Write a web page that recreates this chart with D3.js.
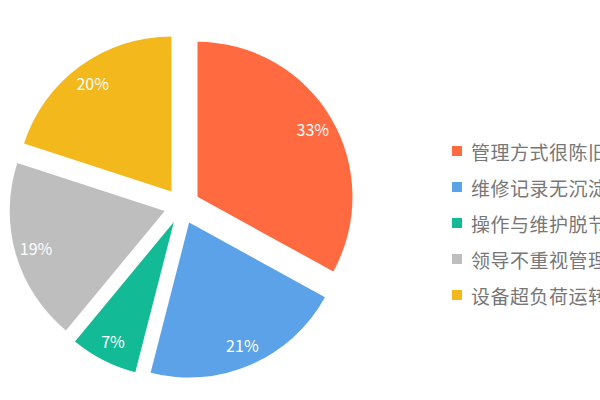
<!DOCTYPE html>
<html>
<head>
<meta charset="utf-8">
<script src="https://cdn.jsdelivr.net/npm/d3@7"></script>
<style>
html,body{margin:0;padding:0;background:#fff;overflow:hidden;}
svg{display:block;}
</style>
</head>
<body>
<svg id="chart" width="600" height="400"></svg>
<script>
const categories = ["管理方式很陈旧", "维修记录无沉淀", "操作与维护脱节", "领导不重视管理", "设备超负荷运转"];
const values = [33, 21, 7, 19, 20];
const colors = ["#FF6A40", "#5BA2E8", "#12BA96", "#BEBEBE", "#F2B81C"];

const svg = d3.select("#chart");
const cx = 182, cy = 206, R = 155, offset = 18, labelR = 134;
const font = "'Noto Sans CJK SC', 'Noto Sans', sans-serif";

const data = categories.map((c, i) => ({name: c, value: values[i], color: colors[i]}));
const pie = d3.pie().value(d => d.value).sort(null).startAngle(0).endAngle(2 * Math.PI);
const arcs = pie(data);
const arc = d3.arc().innerRadius(0).outerRadius(R);
const labelArc = d3.arc().innerRadius(labelR).outerRadius(labelR);
const total = d3.sum(values);

const g = svg.append("g").attr("transform", `translate(${cx},${cy})`);
const slice = g.selectAll("g.slice").data(arcs).enter().append("g")
  .attr("class", "slice")
  .attr("transform", d => {
    const a = (d.startAngle + d.endAngle) / 2;
    return `translate(${offset * Math.sin(a)},${-offset * Math.cos(a)})`;
  });
slice.append("path").attr("d", arc).attr("fill", d => d.data.color);
slice.append("text")
  .attr("transform", d => `translate(${labelArc.centroid(d)})`)
  .attr("text-anchor", "middle")
  .attr("dominant-baseline", "central")
  .attr("fill", "#fff")
  .style("font-family", font)
  .style("font-size", "16px")
  .text(d => Math.round(d.data.value / total * 100) + "%");

const legend = svg.append("g").attr("transform", "translate(452,151)");
const item = legend.selectAll("g").data(data).enter().append("g")
  .attr("transform", (d, i) => `translate(0,${i * 36})`);
item.append("rect").attr("x", 0).attr("y", -5).attr("width", 10).attr("height", 10).attr("fill", d => d.color);
item.append("text").attr("x", 19).attr("y", 0)
  .attr("dominant-baseline", "central")
  .attr("fill", "#777")
  .style("font-family", font)
  .style("font-size", "19px")
  .style("letter-spacing", "0.5px")
  .text(d => d.name);
</script>
</body>
</html>
